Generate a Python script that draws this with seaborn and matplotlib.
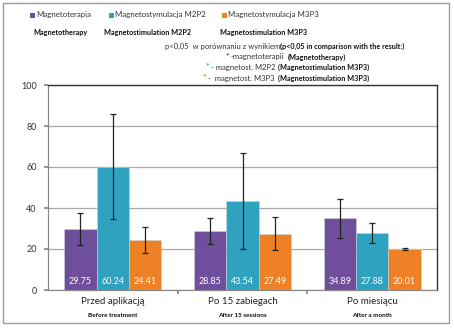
import matplotlib
matplotlib.use("Agg")
import matplotlib.pyplot as plt
import seaborn as sns
import pandas as pd
import numpy as np
from matplotlib.patches import Rectangle

categories = ["Przed aplikacją", "Po 15 zabiegach", "Po miesiącu"]
categories_en = ["Before treatment", "After 15 sessions", "After a month"]
series = ["Magnetoterapia", "Magnetostymulacja M2P2", "Magnetostymulacja M3P3"]
series_en = ["Magnetotherapy", "Magnetostimulation M2P2", "Magnetostimulation M3P3"]
magnetoterapia = [29.75, 28.85, 34.89]
m2p2 = [60.24, 43.54, 27.88]
m3p3 = [24.41, 27.49, 20.01]
err_magnetoterapia = [8.0, 6.5, 9.3]
err_m2p2 = [25.5, 23.4, 5.0]
err_m3p3 = [6.5, 8.0, 0.3]
yticks = [0, 20, 40, 60, 80, 100]

colors = ["#6F4E9C", "#2FA2C0", "#EE8126"]

values = [magnetoterapia, m2p2, m3p3]
errors = [err_magnetoterapia, err_m2p2, err_m3p3]
rows = []
for s, vals in zip(series, values):
    for c, v in zip(categories, vals):
        rows.append({"cat": c, "series": s, "value": v})
df = pd.DataFrame(rows)

sns.set_theme(style="white")
plt.rcParams['font.family'] = ['Lato', 'DejaVu Sans']

fig = plt.figure(figsize=(4.54, 3.36), dpi=100)
ax = fig.add_axes([48/454, 46/336, 389/454, 205/336])

sns.barplot(data=df, x="cat", y="value", hue="series", order=categories,
            hue_order=series, palette=colors, width=0.75, errorbar=None,
            saturation=1, ax=ax, legend=False, edgecolor="#D0D0D0", linewidth=0.4)

for cont, errs in zip(ax.containers, errors):
    for bar, e in zip(cont, errs):
        xc = bar.get_x() + bar.get_width() / 2
        h = bar.get_height()
        ax.errorbar(xc, h, yerr=e, fmt="none", ecolor="#222222", elinewidth=0.9,
                    capsize=2.5, capthick=0.9, zorder=5)
        ax.text(xc, 4, f"{h:.2f}", color="white", ha="center", va="center",
                fontsize=6.5, zorder=6)

ax.set_ylim(0, 100)
ax.set_xlim(-0.5, 2.5)
ax.set_yticks(yticks)
ax.set_yticklabels([str(t) for t in yticks], fontsize=6.5, color="#333333")
ax.yaxis.grid(True, color="#A8A8A8", linewidth=0.9)
ax.set_axisbelow(True)
ax.set_xlabel("")
ax.set_ylabel("")
ax.set_xticks([0.5, 1.5])
ax.set_xticklabels([])
ax.tick_params(axis="x", length=3, color="#888888", direction="out", bottom=True)
ax.tick_params(axis="y", length=3, color="#888888", direction="out", left=True, pad=5)
for side in ["left", "bottom"]:
    ax.spines[side].set_color("#888888")
    ax.spines[side].set_linewidth(0.9)
for side in ["top", "right"]:
    ax.spines[side].set_color("#333333")
    ax.spines[side].set_linewidth(1.0)

for i, (c, ce) in enumerate(zip(categories, categories_en)):
    ax.text(i, -3.5, c, ha="center", va="top", fontsize=7, color="#222222",
            transform=ax.transData, clip_on=False)
    ax.text(i, -11, ce, ha="center", va="top", fontsize=4.6, fontweight="bold",
            color="#111111", transform=ax.transData, clip_on=False)

# Outer frame
fig.patches.append(Rectangle((3/454, 13/336), 446/454, 320/336, transform=fig.transFigure,
                             fill=False, edgecolor="#9A9A9A", linewidth=1.0))

# Legend
leg_x = [32, 111, 224]
en_x = [33, 104, 220]
for lx, ex, s, se, col in zip(leg_x, en_x, series, series_en, colors):
    fig.patches.append(Rectangle(((lx - 2.5)/454, 1 - 17.5/336), 5/454, 5/336,
                                 transform=fig.transFigure, facecolor=col, edgecolor="none"))
    fig.text((lx + 4)/454, 1 - 15/336, s, fontsize=5.7, color="#333333", va="center", ha="left")
    fig.text(ex/454, 1 - 32/336, se, fontsize=5.2, fontweight="bold", color="#111111",
             va="center", ha="left")

fig.text(165/454, 1 - 46/336, "p<0,05  w porównaniu z wynikiem:", fontsize=5.5,
         color="#333333", va="center", ha="left")
fig.text(280/454, 1 - 46/336, "(p<0,05 in comparison with the result:)", fontsize=5.2,
         fontweight="bold", color="#111111", va="center", ha="left")

notes = [
    (226, 57, colors[0], "-magnetoterapii", "(Magnetotherapy)"),
    (206, 67.5, colors[1], "- magnetost. M2P2", "(Magnetostimulation M3P3)"),
    (203, 78, colors[2], "-  magnetost. M3P3", "(Magnetostimulation M3P3)"),
]
fig.canvas.draw()
for x0, y0, col, t1, t2 in notes:
    fig.text(x0/454, 1 - (y0 - 1.5)/336, "*", fontsize=6, color=col, va="center", ha="left",
             fontweight="bold")
    t = fig.text((x0 + 5)/454, 1 - y0/336, t1, fontsize=5.5, color="#333333",
                 va="center", ha="left")
    bb = t.get_window_extent(renderer=fig.canvas.get_renderer())
    fig.text((bb.x1 + 3)/454, 1 - y0/336, t2, fontsize=5.2, fontweight="bold",
             color="#111111", va="center", ha="left")

fig.savefig("out.png", dpi=100)
